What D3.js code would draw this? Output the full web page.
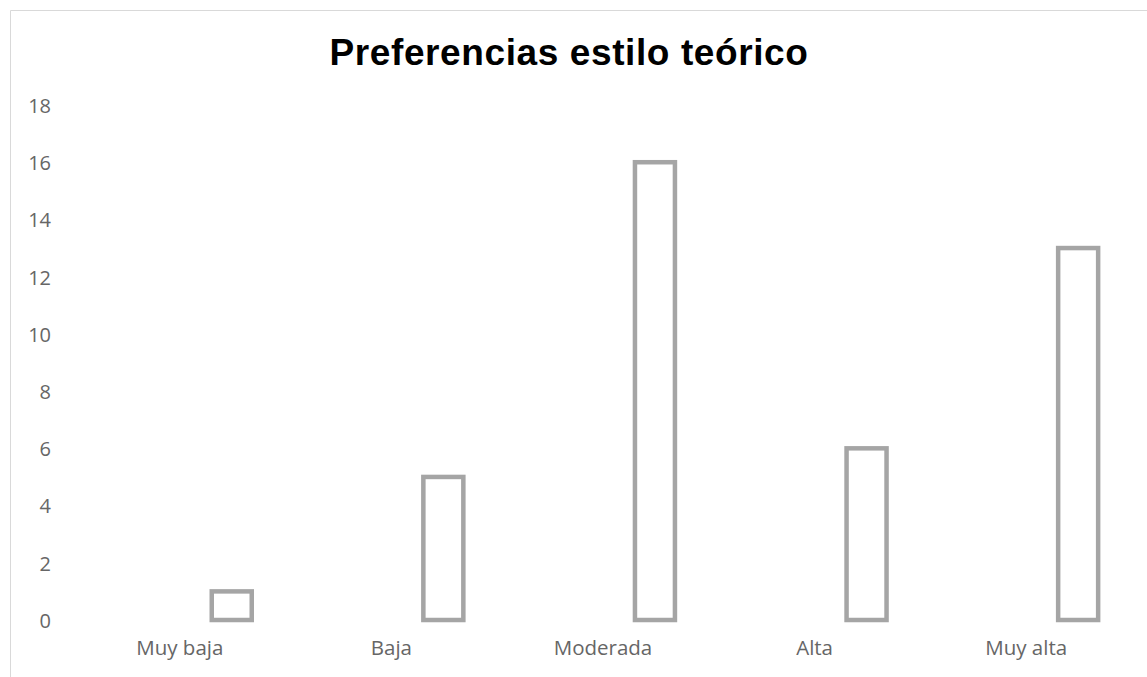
<!DOCTYPE html>
<html>
<head>
<meta charset="utf-8">
<script src="https://cdn.jsdelivr.net/npm/d3@7"></script>
<style>
  html, body { margin: 0; padding: 0; background: #fff; }
  svg { display: block; }
</style>
</head>
<body>
<svg id="chart" width="1147" height="677"></svg>
<script>
// Chart data
const categories = ["Muy baja", "Baja", "Moderada", "Alta", "Muy alta"];
const values = [1, 5, 16, 6, 13];
const yTicks = [0, 2, 4, 6, 8, 10, 12, 14, 16, 18];
const title = "Preferencias estilo teórico";

const W = 1147, H = 677;
const svg = d3.select("#chart");

// Outer frame (top and left edges visible)
svg.append("path")
  .attr("d", `M10.5,${H} L10.5,10.5 L${W},10.5`)
  .attr("fill", "none")
  .attr("stroke", "#d9d9d9")
  .attr("stroke-width", 1);

const plot = { left: 74, right: 1132, top: 105, bottom: 620 };

const x = d3.scaleBand().domain(categories).range([plot.left, plot.right]).padding(0);
const y = d3.scaleLinear().domain([0, 18]).range([plot.bottom, plot.top]);

// Title
svg.append("text")
  .attr("x", 569)
  .attr("y", 65)
  .attr("text-anchor", "middle")
  .attr("font-family", "Liberation Sans, Arial, sans-serif")
  .attr("font-weight", "bold")
  .attr("font-size", 37)
  .attr("letter-spacing", 0.6)
  .attr("fill", "#000")
  .text(title);

const labelFont = "'Open Sans', 'Noto Sans', sans-serif";

// Y axis labels
const yAxis = d3.axisLeft(y).tickValues(yTicks).tickSize(0).tickPadding(0);
const gy = svg.append("g").attr("transform", "translate(51,1)").call(yAxis);
gy.select(".domain").remove();
gy.selectAll("text")
  .attr("font-family", labelFont)
  .attr("font-size", 20)
  .attr("fill", "#666666")
  .attr("text-anchor", "end");

// X axis labels
const xAxis = d3.axisBottom(x).tickSize(0).tickPadding(0);
const gx = svg.append("g").attr("transform", "translate(0,640)").call(xAxis);
gx.select(".domain").remove();
gx.selectAll("text")
  .attr("font-family", labelFont)
  .attr("font-size", 20.5)
  .attr("fill", "#666666");

// Bars: outlined, sitting in the right-hand slot of each category
const bw = x.bandwidth();
const barOffset = bw * 0.151;
const barWidth = bw * 0.189;
svg.append("g").selectAll("rect")
  .data(values)
  .join("rect")
  .attr("x", (d, i) => x(categories[i]) + bw / 2 + barOffset)
  .attr("y", d => y(d))
  .attr("width", barWidth)
  .attr("height", d => y(0) - y(d))
  .attr("fill", "none")
  .attr("stroke", "#a5a5a5")
  .attr("stroke-width", 4.5);
</script>
</body>
</html>
